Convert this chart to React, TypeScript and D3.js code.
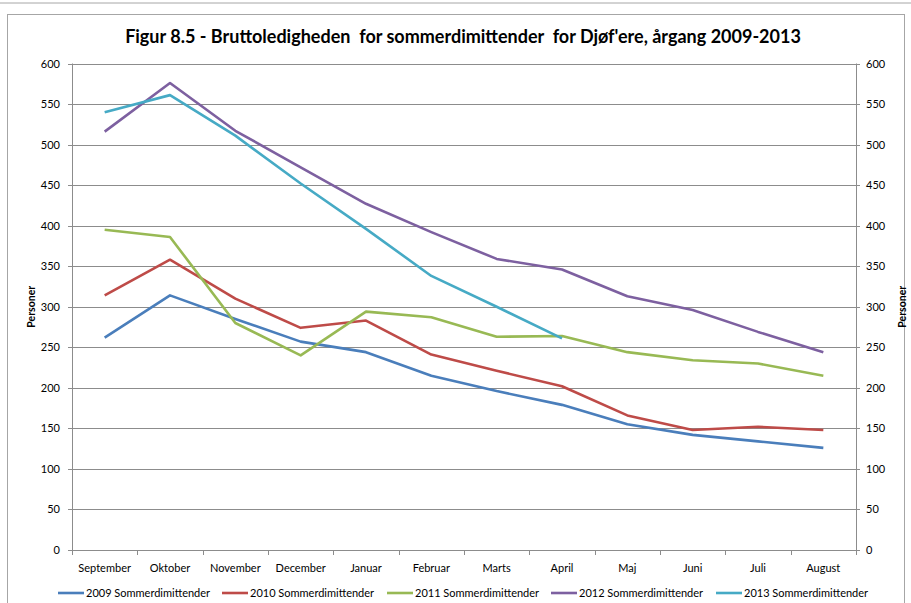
import React from "react";
import * as d3 from "d3";

const months = ["September","Oktober","November","December","Januar","Februar","Marts","April","Maj","Juni","Juli","August"];
const yTicks = [0,50,100,150,200,250,300,350,400,450,500,550,600];
const s2009 = [262,314,285,257,244,215,196,179,155,142,134,126];
const s2010 = [314,358,310,274,283,241,221,202,166,148,152,148];
const s2011 = [395,386,280,240,294,287,263,264,244,234,230,215];
const s2012 = [516,576,517,472,427,392,359,346,313,296,269,244];
const s2013 = [540,561,511,452,396,338,300,261];
const seriesNames = ["2009 Sommerdimittender","2010 Sommerdimittender","2011 Sommerdimittender","2012 Sommerdimittender","2013 Sommerdimittender"];
const seriesColors = ["#4A7EBB","#BE4B48","#98B954","#7D60A0","#46AAC5"];
const title = "Figur 8.5 - Bruttoledigheden  for sommerdimittender  for Djøf'ere, årgang 2009-2013";

const W = 911, H = 603;
const left = 72, right = 856, top = 63.5, bottom = 550;
const font = "Lato, 'Open Sans', sans-serif";

export default function App() {
  const x = d3.scaleBand<string>().domain(months).range([left, right]);
  const y = d3.scaleLinear().domain([0, 600]).range([bottom, top]);
  const allSeries = [s2009, s2010, s2011, s2012, s2013];
  const line = d3.line<number>()
    .x((_, i) => (x(months[i]) as number) + x.bandwidth() / 2)
    .y((d) => y(d));
  const legendX = [58, 222, 387, 551, 716];
  const bounds = months.map((m) => x(m) as number).concat([right]);
  return (
    <svg width={W} height={H} style={{ position: "absolute", left: 0, top: 0, background: "#fff" }} fontFamily={font}>
      <line x1={0} x2={W} y1={3} y2={3} stroke="#a6a6a6" strokeWidth={1} />
      <rect x={7.5} y={14.5} width={897} height={600} fill="none" stroke="#a6a6a6" strokeWidth={1} />
      <text x={463} y={43} textAnchor="middle" fontSize={18} fontWeight="bold" fill="#000" style={{ whiteSpace: "pre" }}>{title}</text>
      {yTicks.map((t) => (
        <g key={t}>
          {t > 0 && <line x1={left} x2={right} y1={Math.round(y(t)) + 0.5} y2={Math.round(y(t)) + 0.5} stroke="#8c8c8c" strokeWidth={1} />}
          <line x1={left - 4} x2={left} y1={Math.round(y(t)) + 0.5} y2={Math.round(y(t)) + 0.5} stroke="#8c8c8c" />
          <line x1={right} x2={right + 4} y1={Math.round(y(t)) + 0.5} y2={Math.round(y(t)) + 0.5} stroke="#8c8c8c" />
          <text x={60} y={y(t) + 4} textAnchor="end" fontSize={11} fill="#000">{t}</text>
          <text x={866} y={y(t) + 4} textAnchor="start" fontSize={11} fill="#000">{t}</text>
        </g>
      ))}
      <line x1={left + 0.5} x2={left + 0.5} y1={top} y2={bottom} stroke="#8c8c8c" />
      <line x1={right + 0.5} x2={right + 0.5} y1={top} y2={bottom} stroke="#8c8c8c" />
      <line x1={left} x2={right} y1={bottom + 0.5} y2={bottom + 0.5} stroke="#8c8c8c" />
      {bounds.map((b, i) => (
        <line key={i} x1={Math.round(b) + 0.5} x2={Math.round(b) + 0.5} y1={bottom} y2={bottom + 5} stroke="#8c8c8c" />
      ))}
      {months.map((m) => (
        <text key={m} x={(x(m) as number) + x.bandwidth() / 2} y={572} textAnchor="middle" fontSize={11} fill="#000">{m}</text>
      ))}
      <text transform={`translate(35,${(top + bottom) / 2}) rotate(-90)`} textAnchor="middle" fontSize={10.5} fontWeight="bold" fill="#000">Personer</text>
      <text transform={`translate(906,${(top + bottom) / 2}) rotate(-90)`} textAnchor="middle" fontSize={10.5} fontWeight="bold" fill="#000">Personer</text>
      {allSeries.map((s, i) => (
        <path key={i} d={line(s) || ""} fill="none" stroke={seriesColors[i]} strokeWidth={2.6} strokeLinejoin="round" />
      ))}
      {seriesNames.map((n, i) => (
        <g key={n}>
          <line x1={legendX[i]} x2={legendX[i] + 26} y1={593} y2={593} stroke={seriesColors[i]} strokeWidth={2.6} />
          <text x={legendX[i] + 28} y={597} fontSize={11} fill="#000">{n}</text>
        </g>
      ))}
    </svg>
  );
}
